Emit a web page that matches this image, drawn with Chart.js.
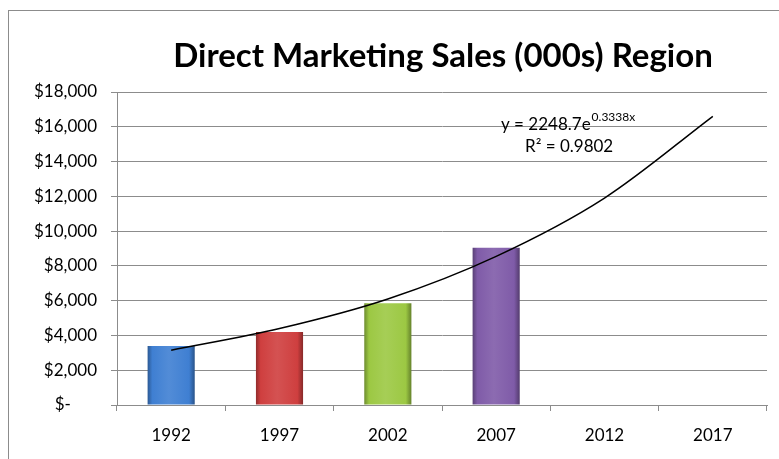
<!DOCTYPE html>
<html>
<head>
<meta charset="utf-8">
<script src="https://cdn.jsdelivr.net/npm/chart.js@4"></script>
<style>
    body { margin: 0; background: #fff; }
    .wrap { position: relative; width: 779px; height: 459px; overflow: hidden; }
    .frame { position: absolute; left: 8px; top: 10px; width: 800px; height: 480px; border-left: 1px solid #8c8c8c; border-top: 1px solid #8c8c8c; }
    canvas { position: absolute; left: 0; top: 0; }
</style>
</head>
<body>
<div class="wrap">
    <div class="frame"></div>
    <canvas id="salesChart" width="779" height="459"></canvas>
</div>
<script>
var years = ['1992', '1997', '2002', '2007', '2012', '2017'];
var sales = [3400, 4200, 5850, 9050, null, null];
var trend = [3150, 4400, 6100, 8550, 11900, 16600];
var barColors = ['#3f7fd2', '#cf3f3f', '#9cc843', '#7f5ba8'];
var yTicks = [0, 2000, 4000, 6000, 8000, 10000, 12000, 14000, 16000, 18000];

var FONT = 'Lato, "Liberation Sans", sans-serif';

function shade(hex, amt) {
    var n = parseInt(hex.slice(1), 16);
    var r = (n >> 16) & 255, g = (n >> 8) & 255, b = n & 255;
    function f(c) {
        c = amt < 0 ? c * (1 + amt) : c + (255 - c) * amt;
        return Math.round(Math.max(0, Math.min(255, c)));
    }
    return 'rgb(' + f(r) + ',' + f(g) + ',' + f(b) + ')';
}

function barFill(context) {
    var chart = context.chart;
    var base = barColors[context.dataIndex] || '#888';
    var xs = chart.scales.x;
    if (!xs || !chart.chartArea) return base;
    var cx = xs.getPixelForValue(context.dataIndex);
    var w = xs.width / years.length * 0.435;
    var g = chart.ctx.createLinearGradient(cx - w / 2, 0, cx + w / 2, 0);
    g.addColorStop(0, shade(base, -0.3));
    g.addColorStop(0.1, shade(base, 0));
    g.addColorStop(0.45, shade(base, 0.1));
    g.addColorStop(0.88, base);
    g.addColorStop(1, shade(base, -0.35));
    return g;
}

var textPlugin = {
    id: 'textPlugin',
    afterDraw: function (chart) {
        var ctx = chart.ctx;
        var area = chart.chartArea;
        ctx.save();
        ctx.fillStyle = '#000';
        ctx.textBaseline = 'alphabetic';

        // title centred over the plot area
        ctx.font = 'bold 33px ' + FONT;
        ctx.textAlign = 'center';
        ctx.fillText('Direct Marketing Sales (000s) Region', (area.left + area.right) / 2 + 1, 67);

        // trendline equation
        ctx.textAlign = 'left';
        ctx.font = '17px ' + FONT;
        var main = 'y = 2248.7e';
        ctx.fillText(main, 501, 130);
        var mw = ctx.measureText(main).width;
        ctx.font = '12px ' + FONT;
        ctx.fillText('0.3338x', 501 + mw + 1, 121);
        ctx.font = '17px ' + FONT;
        ctx.fillText('R\u00b2 = 0.9802', 525, 152);
        ctx.restore();
    }
};

var ctx = document.getElementById('salesChart').getContext('2d');

new Chart(ctx, {
    type: 'bar',
    data: {
        labels: years,
        datasets: [
            {
                type: 'line',
                label: 'Trend',
                data: trend,
                borderColor: '#000',
                borderWidth: 1.5,
                pointRadius: 0,
                fill: false,
                cubicInterpolationMode: 'monotone',
                order: 0
            },
            {
                type: 'bar',
                label: 'Sales',
                data: sales,
                backgroundColor: barFill,
                borderWidth: 0,
                barPercentage: 0.435,
                categoryPercentage: 1,
                order: 1
            }
        ]
    },
    options: {
        responsive: false,
        devicePixelRatio: 1,
        animation: false,
        layout: {
            padding: { top: 92, right: 12, left: 0, bottom: 0 }
        },
        plugins: {
            legend: { display: false },
            tooltip: { enabled: false }
        },
        scales: {
            x: {
                offset: true,
                afterFit: function (scale) { scale.height = 54; },
                grid: {
                    offset: true,
                    drawOnChartArea: false,
                    color: '#8c8c8c',
                    tickLength: 6
                },
                border: { color: '#8c8c8c' },
                ticks: {
                    color: '#000',
                    padding: 14,
                    font: { family: FONT, size: 17 }
                }
            },
            y: {
                min: 0,
                max: 18000,
                afterFit: function (scale) { scale.width = 117; },
                afterBuildTicks: function (scale) {
                    scale.ticks = yTicks.map(function (v) { return { value: v }; });
                },
                grid: {
                    color: '#8c8c8c',
                    tickLength: 6
                },
                border: { color: '#8c8c8c' },
                ticks: {
                    color: '#000',
                    padding: 14,
                    font: { family: FONT, size: 17 },
                    callback: function (value) {
                        if (value === 0) return '$-      ';
                        return '$' + value.toLocaleString('en-US');
                    }
                }
            }
        }
    },
    plugins: [textPlugin]
});
</script>
</body>
</html>
